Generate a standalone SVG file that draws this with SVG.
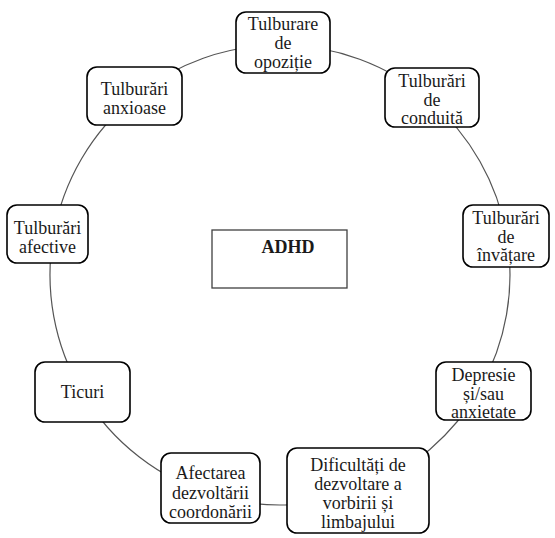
<svg xmlns="http://www.w3.org/2000/svg" width="555" height="538" viewBox="0 0 555 538">
<style>
.bg{fill:#ffffff}
.node rect{fill:#ffffff;stroke:#000000;stroke-width:1.6}
.node text{font-family:'Liberation Serif','Times New Roman','DejaVu Serif',serif;font-size:18px;fill:#1a1a1a;text-anchor:middle}
.conn path{fill:none;stroke:#555555;stroke-width:1.2}
.center rect{fill:#ffffff;stroke:#404040;stroke-width:1.3}
.center text{font-family:'Liberation Serif','Times New Roman','DejaVu Serif',serif;font-size:18px;font-weight:bold;fill:#1a1a1a;text-anchor:middle}
</style>
<rect class="bg" x="0" y="0" width="555" height="538"/>
<g id="connectors" class="conn">
<path d="M280,45 A230,230 0 0 1 429.4,100.1"/>
<path d="M429.4,100.1 A230,230 0 0 1 506.6,235.8"/>
<path d="M506.6,235.8 A230,230 0 0 1 479.8,388.9"/>
<path d="M479.8,388.9 A230,230 0 0 1 362.4,489.7"/>
<path d="M362.4,489.7 A230,230 0 0 1 215.8,495.9"/>
<path d="M215.8,495.9 A230,230 0 0 1 82,392.1"/>
<path d="M82,392.1 A230,230 0 0 1 53.3,236.2"/>
<path d="M53.3,236.2 A230,230 0 0 1 135.3,96.3"/>
<path d="M135.3,96.3 A230,230 0 0 1 280,45"/>
</g>
<g id="adhd" class="center">
<rect x="212" y="230" width="135" height="58"/>
<text x="288" y="253">ADHD</text>
</g>
<g id="n-opozitie" class="node">
<rect x="236" y="12" width="94" height="61" rx="10"/>
<text x="283" y="30">Tulburare</text>
<text x="283" y="49">de</text>
<text x="283" y="68">opoziție</text>
</g>
<g id="n-conduita" class="node">
<rect x="385" y="68" width="94" height="59" rx="10"/>
<text x="432" y="87">Tulburări</text>
<text x="432" y="105.5">de</text>
<text x="432" y="124">conduită</text>
</g>
<g id="n-invatare" class="node">
<rect x="463" y="205" width="86" height="62" rx="10"/>
<text x="506" y="224">Tulburări</text>
<text x="506" y="242.5">de</text>
<text x="506" y="261">învățare</text>
</g>
<g id="n-depresie" class="node">
<rect x="436" y="362" width="95" height="58" rx="10"/>
<text x="483.5" y="381">Depresie</text>
<text x="483.5" y="399.5">și/sau</text>
<text x="483.5" y="418">anxietate</text>
</g>
<g id="n-dificultati" class="node">
<rect x="287" y="448" width="142" height="85" rx="10"/>
<text x="358" y="471">Dificultăți de</text>
<text x="358" y="490">dezvoltare a</text>
<text x="358" y="509">vorbirii și</text>
<text x="358" y="528">limbajului</text>
</g>
<g id="n-afectarea" class="node">
<rect x="161" y="453" width="99" height="70" rx="10"/>
<text x="210.5" y="479">Afectarea</text>
<text x="210.5" y="499">dezvoltării</text>
<text x="210.5" y="518">coordonării</text>
</g>
<g id="n-ticuri" class="node">
<rect x="35" y="362" width="95" height="60" rx="10"/>
<text x="82.5" y="398">Ticuri</text>
</g>
<g id="n-afective" class="node">
<rect x="7" y="205" width="81" height="58" rx="10"/>
<text x="47.5" y="234">Tulburări</text>
<text x="47.5" y="253">afective</text>
</g>
<g id="n-anxioase" class="node">
<rect x="87" y="67" width="95" height="58" rx="10"/>
<text x="134.5" y="95">Tulburări</text>
<text x="134.5" y="114">anxioase</text>
</g>
</svg>
